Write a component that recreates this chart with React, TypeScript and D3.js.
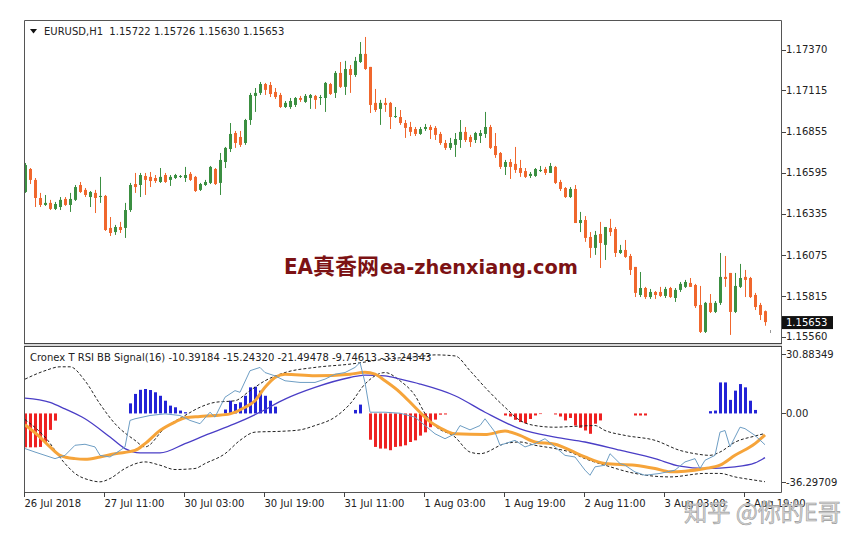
import React from "react";
import * as d3 from "d3";

// EURUSD H1 candles, 26 Jul 2018 19:00 .. 3 Aug 2018 23:00
const opens = [
  1.16474, 1.16619, 1.16550, 1.16436, 1.16392, 1.16405, 1.16367, 1.16379, 1.16430, 1.16392,
  1.16424, 1.16518, 1.16487, 1.16442, 1.16468, 1.16442, 1.16449, 1.16247, 1.16221, 1.16253,
  1.16247, 1.16360, 1.16524, 1.16518, 1.16575, 1.16569, 1.16562, 1.16537, 1.16581, 1.16550,
  1.16562, 1.16569, 1.16562, 1.16588, 1.16569, 1.16487, 1.16518, 1.16531, 1.16619, 1.16531,
  1.16663, 1.16745, 1.16846, 1.16821, 1.16783, 1.16928, 1.17080, 1.17099, 1.17155, 1.17149,
  1.17105, 1.17086, 1.17010, 1.17010, 1.17023, 1.17067, 1.17042, 1.17067, 1.17080, 1.17067,
  1.17067, 1.17155, 1.17099, 1.17225, 1.17137, 1.17250, 1.17212, 1.17294, 1.17345, 1.17263,
  1.17036, 1.16998, 1.17036, 1.17036, 1.16947, 1.16947, 1.16909, 1.16884, 1.16871, 1.16840,
  1.16871, 1.16884, 1.16878, 1.16840, 1.16783, 1.16752, 1.16771, 1.16802, 1.16853, 1.16821,
  1.16802, 1.16827, 1.16840, 1.16884, 1.16764, 1.16720, 1.16632, 1.16663, 1.16651, 1.16625,
  1.16606, 1.16575, 1.16575, 1.16606, 1.16619, 1.16594, 1.16632, 1.16537, 1.16499, 1.16442,
  1.16493, 1.16278, 1.16297, 1.16190, 1.16121, 1.16209, 1.16140, 1.16247, 1.16240, 1.16089,
  1.16108, 1.16070, 1.16001, 1.15824, 1.15868, 1.15811, 1.15843, 1.15843, 1.15818, 1.15868,
  1.15805, 1.15856, 1.15875, 1.15900, 1.15887, 1.15761, 1.15591, 1.15774, 1.15717, 1.15774,
  1.15938, 1.15963, 1.15717, 1.15875, 1.15938, 1.15931, 1.15824, 1.15761, 1.15722,
];
const highs = [
  1.16657, 1.16625, 1.16562, 1.16468, 1.16455, 1.16424, 1.16411, 1.16442, 1.16442, 1.16468,
  1.16518, 1.16537, 1.16499, 1.16480, 1.16487, 1.16569, 1.16455, 1.16316, 1.16266, 1.16285,
  1.16405, 1.16531, 1.16594, 1.16594, 1.16594, 1.16600, 1.16581, 1.16625, 1.16594, 1.16581,
  1.16588, 1.16581, 1.16632, 1.16600, 1.16575, 1.16531, 1.16550, 1.16638, 1.16625, 1.16720,
  1.16758, 1.16909, 1.16859, 1.16859, 1.16935, 1.17099, 1.17130, 1.17168, 1.17162, 1.17168,
  1.17130, 1.17099, 1.17048, 1.17067, 1.17073, 1.17080, 1.17092, 1.17092, 1.17086, 1.17086,
  1.17168, 1.17162, 1.17237, 1.17294, 1.17301, 1.17275, 1.17326, 1.17420, 1.17452, 1.17263,
  1.17124, 1.17055, 1.17067, 1.17042, 1.17010, 1.16991, 1.16928, 1.16916, 1.16884, 1.16884,
  1.16903, 1.16897, 1.16890, 1.16853, 1.16802, 1.16815, 1.16846, 1.16928, 1.16884, 1.16834,
  1.16853, 1.16865, 1.16979, 1.16897, 1.16846, 1.16726, 1.16676, 1.16682, 1.16758, 1.16676,
  1.16625, 1.16600, 1.16625, 1.16638, 1.16632, 1.16657, 1.16638, 1.16550, 1.16505, 1.16505,
  1.16518, 1.16348, 1.16322, 1.16221, 1.16228, 1.16285, 1.16253, 1.16304, 1.16253, 1.16140,
  1.16171, 1.16083, 1.16001, 1.15969, 1.15875, 1.15862, 1.15849, 1.15875, 1.15875, 1.15875,
  1.15868, 1.15906, 1.15919, 1.15931, 1.15894, 1.15881, 1.15780, 1.15830, 1.15786, 1.16089,
  1.16070, 1.15963, 1.15963, 1.16020, 1.15982, 1.15938, 1.15837, 1.15774, 1.15726,
];
const lows = [
  1.16468, 1.16524, 1.16379, 1.16379, 1.16386, 1.16360, 1.16360, 1.16360, 1.16386, 1.16348,
  1.16417, 1.16468, 1.16442, 1.16379, 1.16341, 1.16405, 1.16228, 1.16196, 1.16203, 1.16215,
  1.16184, 1.16348, 1.16468, 1.16442, 1.16455, 1.16505, 1.16531, 1.16531, 1.16531, 1.16512,
  1.16556, 1.16562, 1.16537, 1.16543, 1.16474, 1.16480, 1.16512, 1.16524, 1.16518, 1.16455,
  1.16625, 1.16726, 1.16752, 1.16758, 1.16771, 1.16897, 1.16979, 1.17086, 1.17086, 1.17073,
  1.17061, 1.17004, 1.17004, 1.16998, 1.17010, 1.17042, 1.17036, 1.16998, 1.16998, 1.17023,
  1.16979, 1.17086, 1.17067, 1.17130, 1.17086, 1.17099, 1.17200, 1.17288, 1.17244, 1.16972,
  1.16979, 1.16897, 1.16979, 1.16871, 1.16941, 1.16897, 1.16815, 1.16827, 1.16827, 1.16834,
  1.16859, 1.16808, 1.16802, 1.16771, 1.16739, 1.16739, 1.16695, 1.16752, 1.16789, 1.16758,
  1.16783, 1.16783, 1.16815, 1.16745, 1.16689, 1.16619, 1.16581, 1.16556, 1.16594, 1.16569,
  1.16562, 1.16562, 1.16569, 1.16600, 1.16581, 1.16594, 1.16524, 1.16480, 1.16436, 1.16436,
  1.16278, 1.16221, 1.16159, 1.16058, 1.16077, 1.15994, 1.16045, 1.16196, 1.16064, 1.16083,
  1.16058, 1.15950, 1.15811, 1.15811, 1.15799, 1.15799, 1.15799, 1.15811, 1.15805, 1.15805,
  1.15780, 1.15843, 1.15868, 1.15875, 1.15742, 1.15584, 1.15584, 1.15710, 1.15710, 1.15761,
  1.15875, 1.15572, 1.15710, 1.15868, 1.15811, 1.15805, 1.15729, 1.15666, 1.15630,
];
const closes = [
  1.16644, 1.16550, 1.16436, 1.16392, 1.16405, 1.16367, 1.16398, 1.16424, 1.16392, 1.16430,
  1.16505, 1.16474, 1.16455, 1.16474, 1.16436, 1.16449, 1.16234, 1.16215, 1.16253, 1.16234,
  1.16360, 1.16518, 1.16505, 1.16581, 1.16550, 1.16543, 1.16543, 1.16569, 1.16537, 1.16569,
  1.16581, 1.16575, 1.16581, 1.16550, 1.16480, 1.16524, 1.16537, 1.16632, 1.16524, 1.16676,
  1.16752, 1.16840, 1.16783, 1.16771, 1.16928, 1.17086, 1.17099, 1.17155, 1.17118, 1.17092,
  1.17073, 1.17010, 1.17036, 1.17048, 1.17067, 1.17055, 1.17080, 1.17086, 1.17055, 1.17073,
  1.17162, 1.17092, 1.17225, 1.17137, 1.17250, 1.17212, 1.17301, 1.17345, 1.17250, 1.17023,
  1.16991, 1.17036, 1.17023, 1.16947, 1.16953, 1.16909, 1.16878, 1.16853, 1.16840, 1.16871,
  1.16884, 1.16865, 1.16834, 1.16783, 1.16752, 1.16783, 1.16808, 1.16853, 1.16802, 1.16789,
  1.16846, 1.16846, 1.16884, 1.16752, 1.16707, 1.16632, 1.16663, 1.16632, 1.16613, 1.16594,
  1.16569, 1.16588, 1.16619, 1.16613, 1.16594, 1.16638, 1.16531, 1.16493, 1.16442, 1.16493,
  1.16278, 1.16297, 1.16184, 1.16121, 1.16203, 1.16152, 1.16253, 1.16221, 1.16089, 1.16108,
  1.16064, 1.15982, 1.15837, 1.15868, 1.15811, 1.15843, 1.15824, 1.15818, 1.15862, 1.15811,
  1.15856, 1.15894, 1.15906, 1.15875, 1.15754, 1.15591, 1.15774, 1.15717, 1.15774, 1.15938,
  1.15925, 1.15717, 1.15881, 1.15931, 1.15919, 1.15811, 1.15748, 1.15698, 1.15653,
];

const priceTicks = [1.1737, 1.17115, 1.16855, 1.16595, 1.16335, 1.16075, 1.15815, 1.1556];
const lastPrice = 1.15653;

const timeTickBars = [0, 16, 32, 48, 64, 80, 96, 112, 128, 144];
const timeTickLabels = [
  "26 Jul 2018", "27 Jul 11:00", "30 Jul 03:00", "30 Jul 19:00", "31 Jul 11:00",
  "1 Aug 03:00", "1 Aug 19:00", "2 Aug 11:00", "3 Aug 03:00", "3 Aug 19:00",
];

// Cronex T RSI BB Signal(16): histogram, one value per bar
const histValues = [
  -16.5, -16.5, -16.5, -16.3, -14, -8, -3.5,
  0, 0, 0, 0, 0, 0, 0, 0, 0, 0, 0, 0, 0, 0,
  4.9, 9.5, 11.5, 11.9, 11.4, 10.3, 8.6, 6.2, 3.8, 3.0, 1.4, 0.6,
  0, 0, 0, 0, 0, 0, 0,
  1.9, 6.2, 4.6, 5.4, 8.6, 12.7, 13.0, 11.1, 8.6, 6.2, 3.3,
  0, 0, 0, 0, 0, 0, 0, 0, 0, 0, 0, 0, 0, 0, 0,
  1.7, 4.3, 0,
  -12.8, -16.3, -17.1, -17.1, -17.9, -16.3, -16.0, -15.5, -13.9, -13.1, -10.8, -9.2, -6.7, -3.0, -0.6, -0.5,
  0, 0, 0, 0, 0, 0, 0, 0, 0, 0, 0,
  -1.0, -1.5, -3.1, -4.2, -4.8, -2.7, -1.0, -0.3,
  0, 0,
  -0.5, -1.5, -3.4, -2.2, -5.9, -7.0, -8.3, -9.9, -5.0, -3.4,
  0, 0, 0, 0, 0, 0,
  -1.0, -1.0, -1.0,
  0, 0, 0, 0, 0, 0, 0, 0, 0, 0, 0, 0,
  1.1, 1.4, 15.1, 15.1, 6.6, 11.1, 14.3, 12.7, 6.2, 1.7,
  0, 0,
];

// Indicator lines as [bar, value]
const rsiLine: [number, number][] = [
  [0, -17.1], [2, -18.8], [4, -20.4], [6, -22.0], [8, -20.4], [10, -15.5], [12, -15.0], [14, -16.3],
  [15, -20.4], [17, -21.2], [19, -18.0], [20, -16.3], [21, -3.4], [22, -2.6], [25, -1.0], [28, -0.2],
  [31, -1.0], [33, -3.4], [35, -5.0], [37, 0.6], [38, -1.8], [40, 7.9], [42, 11.1], [43, 10.3],
  [45, 20.8], [47, 22.4], [48, 19.9], [50, 18.3], [52, 15.9], [55, 15.1], [58, 15.1], [60, 16.7],
  [62, 19.1], [64, 19.9], [66, 22.4], [67, 24.8], [68, 15.0], [69, 0.6], [72, 0.6], [75, 0.1],
  [78, -1.8], [80, -5.9], [82, -9.9], [84, -12.3], [86, -9.9], [87, -5.9], [89, -8.0], [91, -5.9],
  [92, -2.6], [94, -9.1], [95, -15.5], [96, -14.7], [98, -13.1], [100, -16.3], [102, -14.7], [104, -12.3],
  [106, -16.3], [108, -20.4], [110, -21.2], [112, -27.6], [113, -30.1], [114, -26.0], [116, -25.2], [117, -19.6],
  [119, -24.4], [120, -25.2], [122, -28.5], [124, -30.1], [127, -29.2], [130, -27.6], [132, -23.6], [134, -22.0],
  [135, -26.8], [136, -22.8], [138, -20.4], [139, -9.1], [140, -8.3], [141, -16.3], [143, -6.7], [144, -7.4],
  [146, -10.7], [148, -15.24],
];
const signalLine: [number, number][] = [
  [0, -5.5], [3, -11.5], [5, -16.3], [7, -20.4], [10, -22.0], [12, -22.3], [15, -21.2], [18, -19.6],
  [22, -18.0], [24, -14.7], [27, -8.3], [30, -4.2], [32, -2.1], [35, -1.5], [38, -1.0], [41, -0.2],
  [44, 3.0], [46, 6.2], [48, 12.7], [50, 17.5], [52, 19.1], [58, 18.3], [65, 19.1], [68, 20.0],
  [70, 19.1], [72, 15.9], [75, 10.3], [78, 3.0], [80, -1.8], [81, -4.0], [83, -7.0], [86, -9.9],
  [92, -10.3], [96, -8.6], [99, -10.7], [102, -13.9], [106, -15.0], [109, -17.9], [112, -21.2], [116, -24.4],
  [122, -25.2], [126, -26.8], [129, -28.4], [132, -28.1], [136, -26.8], [139, -25.2], [142, -20.4], [146, -14.7],
  [148, -10.39],
];
const maLine: [number, number][] = [
  [0, 7.5], [5, 5.4], [8, 2.2], [12, -2.6], [17, -11.5], [20, -17.1], [23, -19.2], [27, -19.2],
  [32, -14.7], [36, -10.7], [42, -5.0], [47, 0.6], [52, 7.0], [58, 12.7], [65, 17.5], [68, 18.7],
  [72, 18.3], [75, 16.7], [79, 14.3], [86, 8.6], [92, 0.6], [99, -7.5], [106, -11.5], [112, -13.9],
  [119, -17.9], [126, -22.0], [131, -25.7], [136, -26.8], [142, -26.0], [146, -24.1], [148, -21.49],
];
const bandUpper: [number, number][] = [
  [0, 16.7], [4, 20.8], [7, 22.7], [9, 22.7], [12, 15.9], [15, 4.6], [18, -5.0], [22, -13.1],
  [24, -16.3], [28, -7.0], [32, -1.0], [35, 3.0], [38, 5.4], [42, 6.2], [45, 11.1], [48, 15.9],
  [52, 19.9], [58, 22.4], [65, 24.0], [72, 26.4], [80, 28.0], [82, 28.5], [86, 28.0], [89, 20.8],
  [92, 12.7], [96, 3.0], [99, -3.4], [102, -5.9], [106, -6.7], [109, -6.4], [114, -5.9], [116, -8.3],
  [120, -10.7], [126, -13.1], [131, -18.0], [134, -19.6], [137, -20.4], [139, -18.8], [142, -14.0], [146, -11.0],
  [148, -9.75],
];
const bandLower: [number, number][] = [
  [0, -3.0], [4, -11.5], [8, -24.4], [10, -29.2], [13, -32.5], [15, -33.3], [17, -31.7], [20, -26.8],
  [24, -23.6], [27, -25.2], [30, -27.3], [34, -26.8], [36, -24.4], [40, -19.6], [43, -13.1], [46, -9.1],
  [52, -8.6], [55, -8.0], [58, -5.9], [62, -1.8], [65, 4.6], [68, 14.3], [72, 19.9], [75, 15.9],
  [78, 8.7], [80, 0.0], [82, -6.0], [86, -11.5], [89, -18.8], [91, -19.6], [96, -14.7], [99, -13.9],
  [102, -15.5], [106, -17.1], [109, -18.8], [112, -22.0], [116, -25.2], [122, -29.2], [129, -30.9], [136, -29.2],
  [139, -29.2], [142, -30.9], [146, -32.5], [148, -33.24],
];

const indTicks = [30.88349, 0, -36.29709];
const indTickLabels = ["30.88349", "0.00", "-36.29709"];

const FONT = "DejaVu Sans, Verdana, sans-serif";
const BULL = "#3b8f41";
const BEAR = "#f0672d";
const MAROON = "#7c1214";

export default function App() {
  const left = 24;
  const right = 781;
  const mainTop = 20;
  const mainBottom = 343;
  const indTop = 346;
  const indBottom = 492;

  const x = d3.scaleLinear().domain([0, 148]).range([25, 765]);
  const yP = d3.scaleLinear().domain([1.15521, 1.17559]).range([mainBottom, mainTop]);
  const yI = d3.scaleLinear().domain([-36.29709, 30.88349]).range([488, 350]);

  const smooth = d3
    .line<[number, number]>()
    .x((d) => x(d[0]))
    .y((d) => yI(d[1]))
    .curve(d3.curveMonotoneX);
  const jagged = d3
    .line<[number, number]>()
    .x((d) => x(d[0]))
    .y((d) => yI(d[1]));

  const fmt = d3.format(".5f");

  return (
    <svg width={860} height={547} style={{ display: "block", position: "absolute", left: 0, top: 0 }}>
      <rect x={0} y={0} width={860} height={547} fill="#fff" />
      <defs>
        <clipPath id="mainClip">
          <rect x={left + 1} y={mainTop + 1} width={right - left - 1} height={mainBottom - mainTop - 1} />
        </clipPath>
        <clipPath id="indClip">
          <rect x={left + 1} y={indTop + 1} width={right - left - 1} height={indBottom - indTop - 1} />
        </clipPath>
      </defs>

      {/* candles */}
      <g clipPath="url(#mainClip)">
        {opens.map((o, i) => {
          const c = closes[i];
          const cx = Math.round(x(i));
          const col = c >= o ? BULL : BEAR;
          const yTop = Math.min(yP(o), yP(c));
          const yBot = Math.max(yP(o), yP(c));
          return (
            <g key={i}>
              <line x1={cx + 0.5} x2={cx + 0.5} y1={yP(highs[i])} y2={yP(lows[i])} stroke={col} strokeWidth={1} />
              <rect x={cx - 1} y={yTop} width={3} height={Math.max(1, yBot - yTop)} fill={col} />
            </g>
          );
        })}
        <rect x={770} y={330} width={1} height={3} fill="#999" />
      </g>

      {/* indicator */}
      <g clipPath="url(#indClip)">
        {histValues.map((v, i) =>
          v === 0 ? null : (
            <rect
              key={i}
              x={Math.round(x(i)) - 1}
              y={Math.min(yI(0), yI(v))}
              width={3}
              height={Math.abs(yI(v) - yI(0))}
              fill={v > 0 ? "#2323d6" : "#ee2222"}
            />
          )
        )}
        <path d={smooth(bandUpper) || ""} fill="none" stroke="#222" strokeWidth={1} strokeDasharray="3 2" />
        <path d={smooth(bandLower) || ""} fill="none" stroke="#222" strokeWidth={1} strokeDasharray="3 2" />
        <path d={smooth(maLine) || ""} fill="none" stroke="#4a3ec6" strokeWidth={1.3} />
        <path d={smooth(signalLine) || ""} fill="none" stroke="#f6a43a" strokeWidth={3} />
        <path d={jagged(rsiLine) || ""} fill="none" stroke="#6e9ec4" strokeWidth={1} />
      </g>

      {/* frame */}
      <path
        d={`M${left + 0.5},${mainTop + 0.5}H${right + 0.5}V${indBottom + 0.5}H${left + 0.5}Z`}
        fill="none"
        stroke="#555"
        strokeWidth={1}
      />
      <rect x={left} y={mainBottom} width={right - left + 1} height={indTop - mainBottom} fill="#d8d8d8" />
      <line x1={left} x2={right + 1} y1={mainBottom + 0.5} y2={mainBottom + 0.5} stroke="#444" />
      <line x1={left} x2={right + 1} y1={indTop + 0.5} y2={indTop + 0.5} stroke="#444" />

      {/* price axis */}
      {priceTicks.map((p, i) => (
        <g key={i}>
          <line x1={right + 1} x2={right + 5} y1={Math.round(yP(p)) + 0.5} y2={Math.round(yP(p)) + 0.5} stroke="#444" />
          <text x={786} y={yP(p) + 3.5} fontFamily={FONT} fontSize={10} fill="#222">
            {fmt(p)}
          </text>
        </g>
      ))}
      <rect x={782} y={yP(lastPrice) - 6} width={51} height={13} fill="#111" />
      <text x={786} y={yP(lastPrice) + 3.5} fontFamily={FONT} fontSize={10} fill="#fff">
        {fmt(lastPrice)}
      </text>

      {/* indicator axis */}
      {indTicks.map((v, i) => {
        const yy = Math.max(354, Math.min(482, yI(v)));
        return (
          <g key={i}>
            <line x1={right + 1} x2={right + 5} y1={Math.round(yy) + 0.5} y2={Math.round(yy) + 0.5} stroke="#444" />
            <text x={786} y={yy + 3.5} fontFamily={FONT} fontSize={10} fill="#222">
              {indTickLabels[i]}
            </text>
          </g>
        );
      })}

      {/* time axis */}
      {timeTickBars.map((b, i) => {
        const tx = Math.round(x(b)) - 0.5;
        return (
          <g key={i}>
            <line x1={tx} x2={tx} y1={indBottom} y2={indBottom + 5} stroke="#444" />
            <text x={tx} y={507} fontFamily={FONT} fontSize={10} fill="#222">
              {timeTickLabels[i]}
            </text>
          </g>
        );
      })}

      {/* titles */}
      <path d="M30,29 L37,29 L33.5,33.5 Z" fill="#111" />
      <text x={44} y={35} fontFamily={FONT} fontSize={10} fill="#222" xmlSpace="preserve">
        {"EURUSD,H1  1.15722 1.15726 1.15630 1.15653"}
      </text>
      <text x={30} y={361} fontFamily={FONT} fontSize={10} fill="#222">
        {"Cronex T RSI BB Signal(16) -10.39184 -15.24320 -21.49478 -9.74613 -33.24343"}
      </text>

      {/* site watermark */}
      <g fill={MAROON} fontWeight={700}>
        <text x={284} y={274} fontFamily="DejaVu Sans, sans-serif" fontSize={21} textLength={29} lengthAdjust="spacingAndGlyphs">
          EA
        </text>
        <text x={313} y={274} fontFamily="Noto Sans CJK SC, sans-serif" fontSize={22} textLength={66} lengthAdjust="spacingAndGlyphs">
          真香网
        </text>
        <text x={380} y={274} fontFamily="DejaVu Sans, sans-serif" fontSize={20} textLength={198} lengthAdjust="spacingAndGlyphs">
          ea-zhenxiang.com
        </text>
      </g>
      <text
        x={684}
        y={521}
        fontFamily="Noto Sans CJK SC, sans-serif"
        fontSize={24}
        fill="#cfcfcf"
        fillOpacity={0.85}
        stroke="#9a9a9a"
        strokeWidth={0.6}
        textLength={157}
        lengthAdjust="spacingAndGlyphs"
      >
        知乎 @你的E哥
      </text>
    </svg>
  );
}
